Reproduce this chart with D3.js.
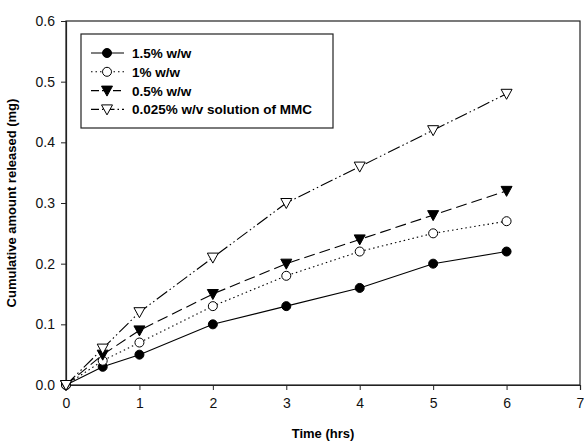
<!DOCTYPE html>
<html>
<head>
<meta charset="utf-8">
<script src="https://cdn.jsdelivr.net/npm/d3@7"></script>
<style>
  body { margin: 0; background: #fff; }
  text { font-family: "Liberation Sans", Arial, sans-serif; }
</style>
</head>
<body>
<div id="chart"></div>
<script>
const times = [0, 0.5, 1, 2, 3, 4, 5, 6];
const seriesNames = ["1.5% w/w", "1% w/w", "0.5% w/w", "0.025% w/v solution of MMC"];
const gel15 = [0, 0.03, 0.05, 0.10, 0.13, 0.16, 0.20, 0.22];
const gel10 = [0, 0.04, 0.07, 0.13, 0.18, 0.22, 0.25, 0.27];
const gel05 = [0, 0.05, 0.09, 0.15, 0.20, 0.24, 0.28, 0.32];
const solution = [0, 0.06, 0.12, 0.21, 0.30, 0.36, 0.42, 0.48];
const xTicks = [0, 1, 2, 3, 4, 5, 6, 7];
const yTicks = [0, 0.1, 0.2, 0.3, 0.4, 0.5, 0.6];

const width = 584, height = 444;
const margin = { top: 21, right: 4, bottom: 59, left: 66 };

const svg = d3.select("#chart").append("svg")
  .attr("width", width)
  .attr("height", height);

const x = d3.scaleLinear().domain([0, 7]).range([margin.left, width - margin.right]);
const y = d3.scaleLinear().domain([0, 0.6]).range([height - margin.bottom, margin.top]);

// frame
svg.append("rect")
  .attr("x", x(0)).attr("y", y(0.6))
  .attr("width", x(7) - x(0)).attr("height", y(0) - y(0.6))
  .attr("fill", "none").attr("stroke", "#222").attr("stroke-width", 1.2);

const xAxis = svg.append("g")
  .attr("transform", `translate(0,${y(0)})`)
  .call(d3.axisBottom(x).tickValues(xTicks).tickFormat(d3.format("d")).tickSize(5).tickPadding(8));
const yAxis = svg.append("g")
  .attr("transform", `translate(${x(0)},0)`)
  .call(d3.axisLeft(y).tickValues(yTicks).tickFormat(d3.format(".1f")).tickSize(5).tickPadding(6));

[xAxis, yAxis].forEach(g => {
  g.select(".domain").attr("stroke", "#222").attr("stroke-width", 1.2);
  g.selectAll(".tick line").attr("stroke", "#222");
  g.selectAll(".tick text").attr("font-size", 14).attr("fill", "#111")
    .style("font-family", "'Liberation Sans', Arial, sans-serif");
});

svg.append("text")
  .attr("x", (x(0) + x(7)) / 2).attr("y", 438)
  .attr("text-anchor", "middle").attr("font-size", 13).attr("font-weight", "bold")
  .text("Time (hrs)");

svg.append("text")
  .attr("transform", `translate(16,${(y(0) + y(0.6)) / 2}) rotate(-90)`)
  .attr("text-anchor", "middle").attr("font-size", 13).attr("font-weight", "bold")
  .text("Cumulative amount released (mg)");

const styles = [
  { values: gel15, dash: null, marker: "circle", fill: "#000" },
  { values: gel10, dash: "1.5,3", marker: "circle", fill: "#fff" },
  { values: gel05, dash: "11,5", marker: "tri", fill: "#000" },
  { values: solution, dash: "13,3,1.5,3,1.5,3", marker: "tri", fill: "#fff" }
];

const line = d3.line().x(d => x(d[0])).y(d => y(d[1]));
const triPath = "M-5.5,-4.5 L5.5,-4.5 L0,5.5 Z";

function drawMarker(g, type, fill) {
  if (type === "circle") {
    g.append("circle").attr("r", 4.5).attr("fill", fill).attr("stroke", "#000").attr("stroke-width", 1);
  } else {
    g.append("path").attr("d", triPath).attr("fill", fill).attr("stroke", "#000").attr("stroke-width", 1);
  }
}

styles.forEach(s => {
  const pts = times.map((t, i) => [t, s.values[i]]);
  svg.append("path")
    .datum(pts)
    .attr("d", line)
    .attr("fill", "none")
    .attr("stroke", "#000")
    .attr("stroke-width", 1.1)
    .attr("stroke-dasharray", s.dash);
  svg.selectAll(null).data(pts).enter().append("g")
    .attr("transform", d => `translate(${x(d[0])},${y(d[1])})`)
    .each(function () { drawMarker(d3.select(this), s.marker, s.fill); });
});

// legend
const legend = svg.append("g");
legend.append("rect")
  .attr("x", 81).attr("y", 34).attr("width", 252).attr("height", 94)
  .attr("fill", "#fff").attr("stroke", "#222").attr("stroke-width", 1.2);
styles.forEach((s, i) => {
  const ly = 53 + i * 18.8;
  legend.append("line")
    .attr("x1", 91).attr("x2", 124).attr("y1", ly).attr("y2", ly)
    .attr("stroke", "#000").attr("stroke-width", 1.1)
    .attr("stroke-dasharray", s.dash ? (i === 3 ? "8,3,1.5,3" : (i === 2 ? "8,3" : s.dash)) : null);
  const m = legend.append("g").attr("transform", `translate(107,${ly})`);
  drawMarker(m, s.marker, s.fill);
  legend.append("text")
    .attr("x", 132).attr("y", ly + 5)
    .attr("font-size", 13.5).attr("font-weight", "bold")
    .text(seriesNames[i]);
});
</script>
</body>
</html>
